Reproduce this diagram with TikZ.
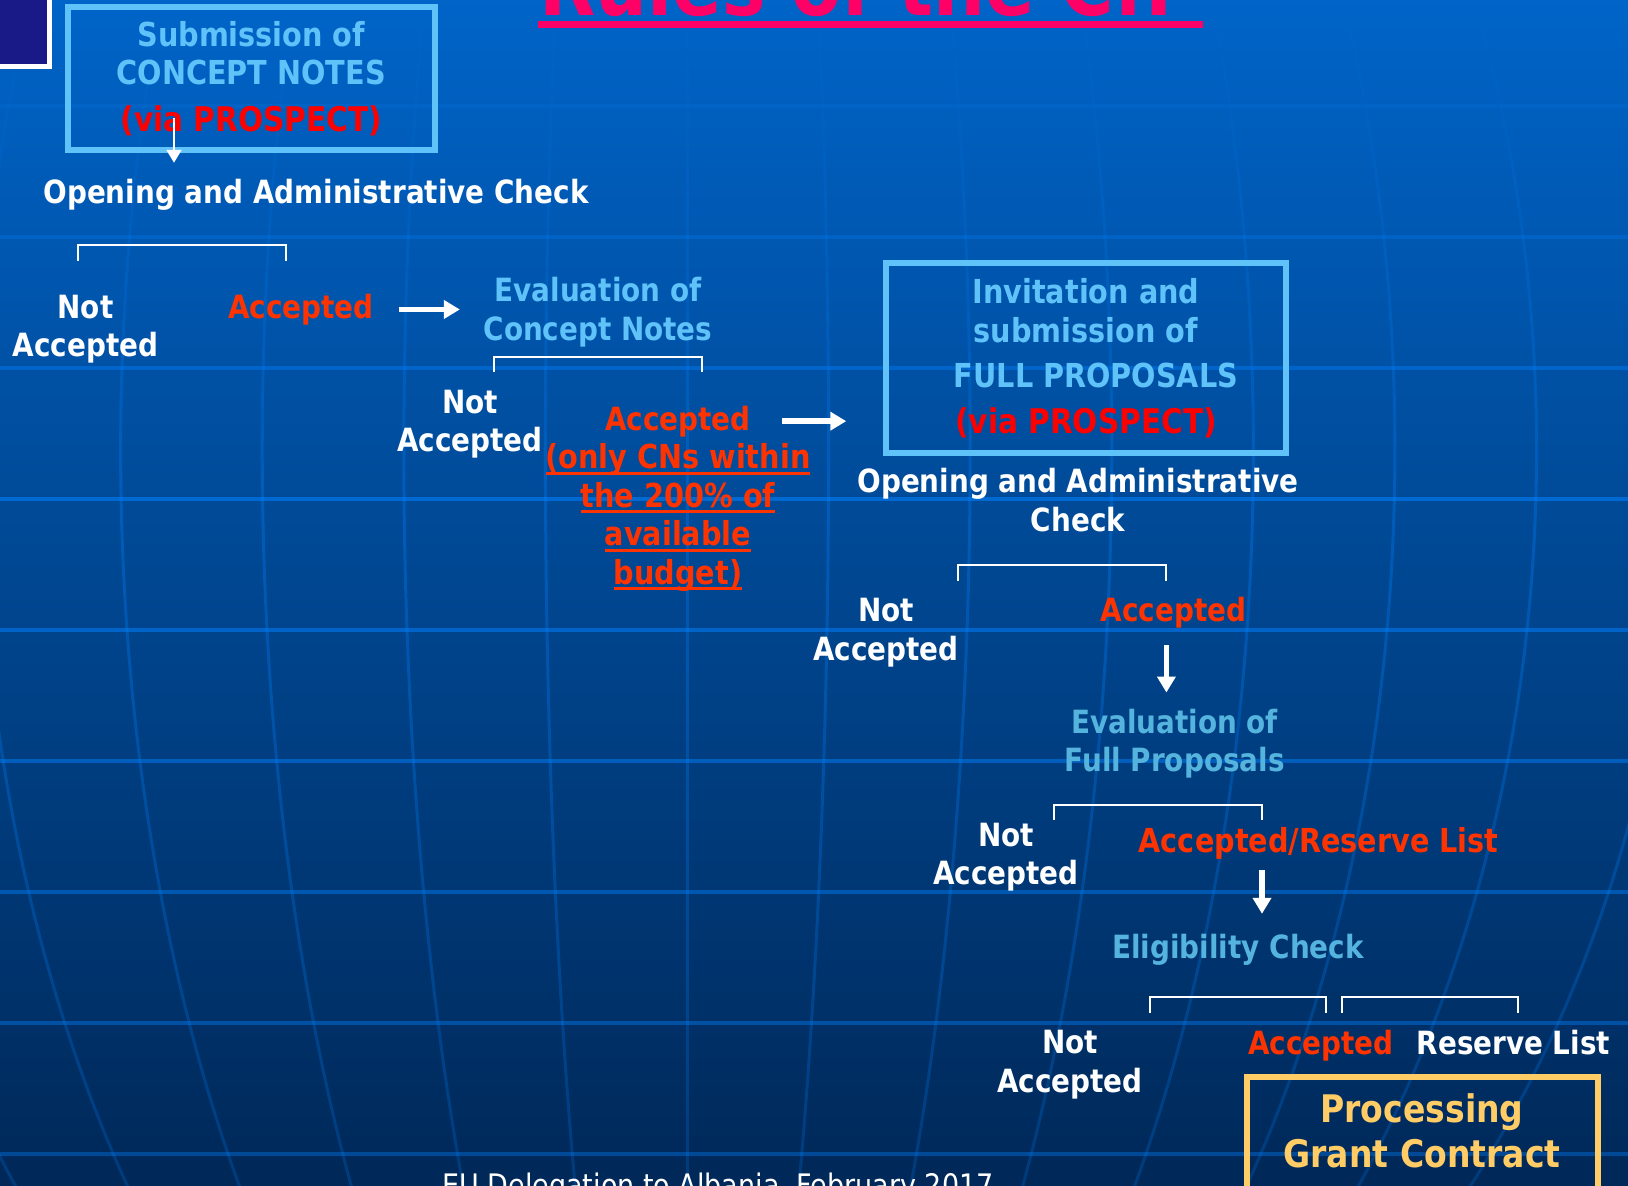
\documentclass[tikz,border=0pt]{standalone}
\usepackage{fontspec}
\newfontfamily\tah{DejaVu Sans}[FakeStretch=0.87]
\usetikzlibrary{arrows.meta, positioning}

\definecolor{bgtop}{RGB}{0,100,200}
\definecolor{bgmid}{RGB}{0,78,156}
\definecolor{bgbot}{RGB}{0,40,88}
\definecolor{gridblue}{RGB}{0,130,255}
\definecolor{navybox}{RGB}{25,25,135}
\definecolor{lightblue}{RGB}{95,195,250}
\definecolor{paleblue}{RGB}{85,180,222}
\definecolor{accred}{RGB}{255,51,0}
\definecolor{titlepink}{RGB}{255,0,102}
\definecolor{gold}{RGB}{255,204,102}
\newcommand{\undl}[1]{\setbox0\hbox{#1}\rlap{\rule[-6pt]{\wd0}{3pt}}\box0}
\newcommand{\redline}[1]{{\color{red}\fontsize{34}{40}\selectfont #1}}

\begin{document}
\begin{tikzpicture}[x=1pt, y=-1pt, >={Triangle[length=16pt,width=18pt]},
    txt/.style={inner sep=0pt, align=center, font=\tah\bfseries\fontsize{32}{38.5}\selectfont},
    wtxt/.style={txt, text=white},
    acctxt/.style={txt, text=accred},
    lbtxt/.style={txt, text=lightblue},
    pbtxt/.style={txt, text=paleblue},
    infobox/.style={lbtxt, draw=lightblue, line width=5.5pt, font=\tah\bfseries\fontsize{33}{38.5}\selectfont},
    fork/.style={draw=white, line width=2pt},
    bigarrow/.style={->, draw=white, line width=5.5pt},
    thinarrow/.style={-{Triangle[length=13pt,width=15pt]}, draw=white, line width=2pt}]

        \useasboundingbox (0,0) rectangle (1628,1186);
        \shade[top color=bgtop, middle color=bgmid, bottom color=bgbot] (0,0) rectangle (1628,1186);

        % globe grid, fading out towards the top
        \foreach \gy in {106,237,...,1155} {
            \pgfmathsetmacro\op{max(0.02,min(0.55*\gy/500, 0.55-0.2*(\gy-500)/686))}
            \draw[gridblue, opacity=\op, line width=3.5pt] (0,\gy) -- (1628,\gy);
        }
        \foreach \k in {-6,...,7}
            \foreach \sg in {0,...,29} {
                \pgfmathsetmacro\ya{-10+40.2*\sg}
                \pgfmathsetmacro\yb{\ya+40.2}
                \pgfmathsetmacro\op{0.6*max(0.02,min(0.55*(\ya+20)/500, 0.55-0.2*(\ya-480)/686))}
                \draw[gridblue, opacity=\op, line width=3pt] plot[domain=\ya:\yb, samples=4, variable=\t]
                    ({687+\k*141*sqrt(144.344-((\t-450)/100)^2)/11.964}, \t);
            }

        \draw[white, line width=5pt, fill=navybox] (-10,-10) rectangle (49.5,66.5);

        \node[anchor=base west, inner sep=0pt, text=titlepink, font=\tah\bfseries\fontsize{84}{90}\selectfont] (ttl) at (539,15) {Rules of the CfP};
        \draw[titlepink, line width=7pt] ([shift={(-1,9.5)}]ttl.base west) -- ++(665,0);

        % concept notes
        \node[infobox, line width=6pt, minimum width=367.5pt, minimum height=143.5pt] (cnbox) at (251.25,78.5) {Submission of\\CONCEPT NOTES\\[8pt]\redline{(via PROSPECT)}};
        \node[wtxt, anchor=base] (oac1) at (316,203.3) {Opening and Administrative Check};
        \coordinate (a0) at (174,118);
        \draw[thinarrow, shorten >=16pt] (a0) -- (a0 |- oac1.north);

        \coordinate (f1a) at (77.5,260.5);
        \coordinate (f1b) at (286,260.5);
        \draw[fork] (f1a) -- ++(0,-15.5) -| (f1b);

        \node[wtxt] (na1) at (85.5,329.1) {Not\\Accepted};
        \node[acctxt, anchor=base] (acc1) at (301,318.3) {Accepted};
        \node[lbtxt] (evalcn) at (598,312.1) {Evaluation of\\Concept Notes};
        \draw[bigarrow, shorten <=25pt, shorten >=23.5pt] (acc1.east) -- (acc1.east -| evalcn.west);

        \coordinate (f2a) at (494,372);
        \coordinate (f2b) at (702,372);
        \draw[fork] (f2a) -- ++(0,-15.5) -| (f2b);

        \node[wtxt] (na2) at (470,424.2) {Not\\Accepted};
        \node[acctxt, anchor=base] (acc2) at (678,430) {Accepted};
        \node[acctxt, font=\tah\bfseries\fontsize{33}{38.5}\selectfont] (cnnote) at (678,517.6) {\undl{(only CNs within}\\\undl{the 200\% of}\\\undl{available}\\\undl{budget)}};

        % full proposals
        \node[infobox, minimum width=400pt, minimum height=190pt] (fpbox) at (1086,358) {Invitation and\\submission of\\[7pt]\hspace*{20pt}FULL PROPOSALS\\[7pt]\redline{(via PROSPECT)}};
        \draw[bigarrow, shorten <=31.5pt, shorten >=37pt] (acc2.east) -- (acc2.east -| fpbox.west);
        \node[wtxt] (oac2) at (1078,500.1) {Opening and Administrative\\Check};

        \coordinate (f3a) at (958,580.7);
        \coordinate (f3b) at (1166.4,580.7);
        \draw[fork] (f3a) -- ++(0,-15.5) -| (f3b);

        \node[wtxt] (na3) at (886,632.5) {Not\\Accepted};
        \node[acctxt, anchor=base] (acc3) at (1173.5,621.7) {Accepted};
        \node[pbtxt] (evalfp) at (1174.6,743.75) {Evaluation of\\Full Proposals};
        \draw[bigarrow, shorten <=16.6pt, shorten >=16.3pt] (acc3.south -| f3b) -- (evalfp.north -| f3b);

        \coordinate (f4a) at (1053.6,820);
        \coordinate (f4b) at (1262,820);
        \draw[fork] (f4a) -- ++(0,-15.5) -| (f4b);

        \node[wtxt] (na4) at (1006,857) {Not\\Accepted};
        \node[acctxt, anchor=base, font=\tah\bfseries\fontsize{33}{38.5}\selectfont] (accrl) at (1318.7,852) {Accepted/Reserve List};
        \node[pbtxt, anchor=base] (elig) at (1238,958.3) {Eligibility Check};
        \draw[bigarrow, shorten <=11.3pt, shorten >=20pt] (accrl.south -| f4b) -- (elig.north -| f4b);

        \coordinate (f5a) at (1149.7,1012.7);
        \coordinate (f5b) at (1326,1012.7);
        \coordinate (f6a) at (1342,1012.7);
        \coordinate (f6b) at (1517.6,1012.7);
        \draw[fork] (f5a) -- ++(0,-15.5) -| (f5b);
        \draw[fork] (f6a) -- ++(0,-15.5) -| (f6b);

        \node[wtxt] (na5) at (1070,1064.6) {Not\\Accepted};
        \node[acctxt, anchor=base] (acc5) at (1321,1054) {Accepted};
        \node[wtxt, anchor=base] (rl) at (1513.4,1054) {Reserve List};

        \node[draw=gold, line width=6pt, minimum width=350.5pt, minimum height=130pt, anchor=north, inner sep=0pt] (gcbox) at (1422.25,1074) {};
        \node[txt, text=gold, font=\tah\bfseries\fontsize{38}{45.6}\selectfont] (gctxt) at (1422,1131) {Processing\\Grant Contract};

        \node[anchor=base, inner sep=0pt, text=white, font=\tah\fontsize{31}{36}\selectfont] (foot) at (718,1196) {EU Delegation to Albania, February 2017};

    \end{tikzpicture}
\end{document}
